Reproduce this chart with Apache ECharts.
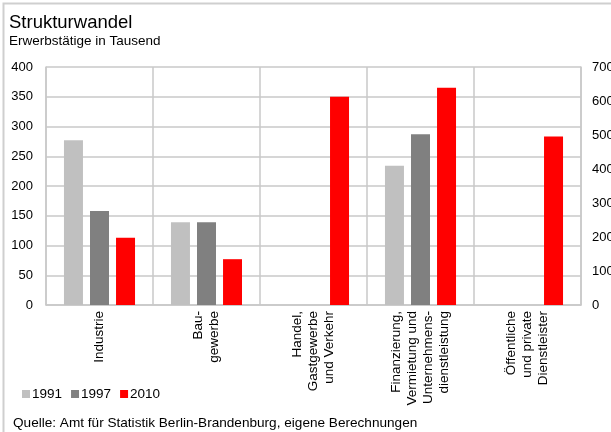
<!DOCTYPE html>
<html>
<head>
<meta charset="utf-8">
<script src="https://cdn.jsdelivr.net/npm/echarts@6/dist/echarts.min.js"></script>
<style>html,body{margin:0;padding:0;background:#fff;}#c{width:611px;height:432px;}</style>
</head>
<body>
<div id="c"></div>
<script>
const categories = ['Industrie', 'Bau-\ngewerbe', 'Handel,\nGastgewerbe\nund Verkehr', 'Finanzierung,\nVermietung und\nUnternehmens-\ndienstleistung', 'Öffentliche\nund private\nDienstleister'];
const years = ['1991', '1997', '2010'];
const values1991 = [277, 139, null, 234, null];
const values1997 = [158, 139, null, 287, null];
const values2010 = [113, 77, 350, 365, 283];
const leftTicks = [0, 50, 100, 150, 200, 250, 300, 350, 400];
const rightTicks = [0, 100, 200, 300, 400, 500, 600, 700];
const colors = ['#c0c0c0', '#808080', '#ff0000'];
const sourceText = 'Quelle: Amt für Statistik Berlin-Brandenburg, eigene Berechnungen';

const chart = echarts.init(document.getElementById('c'), null, {renderer: 'canvas'});
const font = 'Liberation Sans, Arial, sans-serif';
const series = [values1991, values1997, values2010].map((d, i) => ({
  name: years[i],
  type: 'bar',
  data: d,
  barWidth: 19,
  barGap: '37%',
  itemStyle: {color: colors[i]},
  yAxisIndex: 0
}));
chart.setOption({
  animation: false,
  textStyle: {fontFamily: font},
  graphic: [{
    type: 'rect', shape: {x: 3.5, y: 3.5, width: 700, height: 600},
    style: {fill: 'none', stroke: '#cfcfcf', lineWidth: 2}, z: -1
  }, {
    type: 'text', left: 13, top: 416,
    style: {text: sourceText, fontSize: 13.6, fill: '#000', fontFamily: font}
  }],
  title: {
    text: 'Strukturwandel', subtext: 'Erwerbstätige in Tausend',
    left: 4, top: 8, itemGap: 2,
    textStyle: {fontSize: 18.5, fontWeight: 'normal', color: '#000', fontFamily: font},
    subtextStyle: {fontSize: 13.5, color: '#000', fontFamily: font}
  },
  legend: {
    data: years, left: 17, top: 382, itemWidth: 8, itemHeight: 8, itemGap: 9,
    icon: 'rect', textStyle: {fontSize: 13.5, color: '#000', fontFamily: font, padding: [0, 0, 0, -3]}
  },
  grid: {left: 46, right: 30, top: 67, bottom: 127, containLabel: false, outerBoundsMode: 'none'},
  xAxis: {
    type: 'category', data: categories,
    axisLine: {lineStyle: {color: '#c8c8c8', width: 1.5}},
    axisTick: {show: false},
    splitLine: {show: true, lineStyle: {color: '#c8c8c8', width: 1.5}},
    axisLabel: {rotate: 90, interval: 0, fontSize: 13.5, color: '#000', margin: 6, lineHeight: 16, fontFamily: font}
  },
  yAxis: [{
    type: 'value', min: 0, max: 400, interval: 50,
    axisLine: {show: true, lineStyle: {color: '#c8c8c8', width: 1.5}},
    axisTick: {show: false},
    splitLine: {lineStyle: {color: '#c8c8c8', width: 1.5}},
    axisLabel: {fontSize: 13, color: '#000', margin: 13, fontFamily: font,
      formatter: v => leftTicks.includes(v) ? String(v) : ''}
  }, {
    type: 'value', min: 0, max: 700, interval: 100, position: 'right',
    axisLine: {show: true, lineStyle: {color: '#c8c8c8', width: 1.5}},
    axisTick: {show: false},
    splitLine: {show: false},
    axisLabel: {fontSize: 13, color: '#000', margin: 11, fontFamily: font,
      formatter: v => rightTicks.includes(v) ? String(v) : ''}
  }],
  series: series
});
</script>
</body>
</html>
